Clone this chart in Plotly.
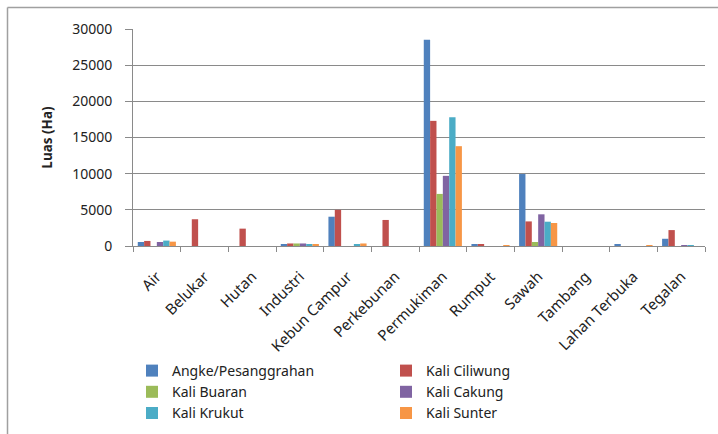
import plotly.graph_objects as go

categories = ["Air", "Belukar", "Hutan", "Industri", "Kebun Campur", "Perkebunan",
              "Permukiman", "Rumput", "Sawah", "Tambang", "Lahan Terbuka", "Tegalan"]
series_names = ["Angke/Pesanggrahan", "Kali Ciliwung", "Kali Buaran",
                "Kali Cakung", "Kali Krukut", "Kali Sunter"]
angke    = [550, 0, 0, 200, 4050, 0, 28500, 150, 9950, 0, 150, 1000]
ciliwung = [700, 3700, 2400, 350, 5000, 3600, 17300, 150, 3400, 0, 0, 2200]
buaran   = [0, 0, 0, 350, 0, 0, 7200, 0, 550, 0, 0, 0]
cakung   = [550, 0, 0, 350, 0, 0, 9700, 0, 4380, 0, 0, 100]
krukut   = [750, 0, 0, 200, 150, 0, 17800, 0, 3360, 0, 0, 100]
sunter   = [600, 0, 0, 200, 350, 0, 13800, 100, 3180, 0, 100, 0]
colors = ["#4F81BD", "#C0504D", "#9BBB59", "#8064A2", "#4BACC6", "#F79646"]
y_ticks = [0, 5000, 10000, 15000, 20000, 25000, 30000]

W, H = 718, 434
L, R, T, B = 133, 705, 29, 246  # plot area in pixels

def px_x(p):
    return (p - L) / (R - L)

def px_y(p):
    return (B - p) / (B - T)

fig = go.Figure()
all_vals = [angke, ciliwung, buaran, cakung, krukut, sunter]
for i, (name, vals, col) in enumerate(zip(series_names, all_vals, colors)):
    fig.add_trace(go.Bar(name=name, x=categories, y=vals, marker_color=col,
                         marker_line_width=0, legendgroup=name,
                         legend="legend" if i % 2 == 0 else "legend2"))

gray = "#8A8A8A"
font = "Noto Sans"
txt = "#222222"
leg_common = dict(orientation="v", xanchor="left", yanchor="top", tracegroupgap=0,
                  font=dict(family=font, size=14, color=txt),
                  bgcolor="rgba(0,0,0,0)", itemwidth=30, borderwidth=0)
fig.update_layout(
    width=W, height=H,
    margin=dict(l=L, r=W - R, t=T, b=H - B, pad=0, autoexpand=False),
    paper_bgcolor="white", plot_bgcolor="white",
    barmode="group", bargap=0.2, bargroupgap=0,
    font=dict(family=font, size=14, color=txt),
    showlegend=True,
    legend=dict(x=px_x(132), y=px_y(355), **leg_common),
    legend2=dict(x=px_x(386), y=px_y(355), **leg_common),
    xaxis=dict(type="category", tickangle=-45, tickson="boundaries", ticks="outside",
               ticklen=5, tickcolor=gray, showline=True, linecolor=gray, linewidth=1,
               showgrid=False, ticklabelstandoff=15,
               tickfont=dict(family=font, size=15, color=txt)),
    yaxis=dict(range=[0, 30000], tickvals=y_ticks, ticktext=[str(v) for v in y_ticks],
               showgrid=True, gridcolor=gray, gridwidth=1, showline=True, linecolor=gray,
               ticks="outside", ticklen=7, tickcolor=gray, zeroline=False,
               ticklabelstandoff=10,
               tickfont=dict(family=font, size=14, color=txt),
               title=dict(text="<b>Luas (Ha)</b>", font=dict(family=font, size=13.5, color=txt),
                          standoff=16)),
    shapes=[
        dict(type="line", xref="paper", yref="paper", x0=px_x(7.5), x1=px_x(720),
             y0=px_y(7.5), y1=px_y(7.5), line=dict(color="#A0A0A0", width=1.5)),
        dict(type="line", xref="paper", yref="paper", x0=px_x(7.5), x1=px_x(7.5),
             y0=px_y(7.5), y1=px_y(436), line=dict(color="#A0A0A0", width=1.5)),
    ],
)

fig.write_html("out.html")
